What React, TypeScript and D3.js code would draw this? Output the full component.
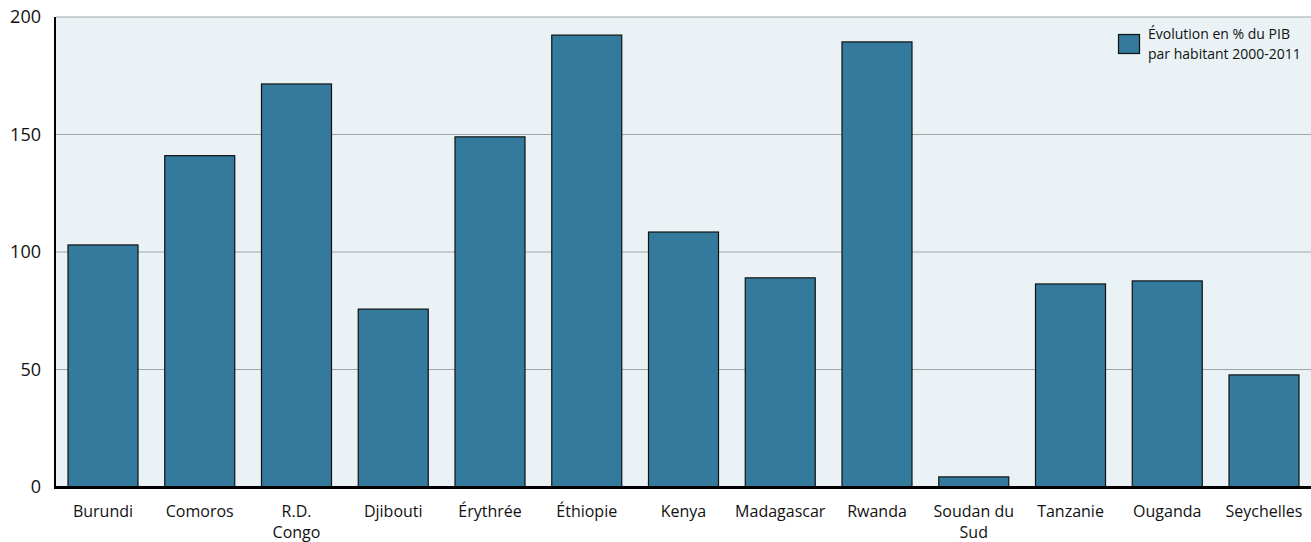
import React, { useEffect, useRef } from "react";
import * as d3 from "d3";

const countries = [
  "Burundi",
  "Comoros",
  "R.D. Congo",
  "Djibouti",
  "Érythrée",
  "Éthiopie",
  "Kenya",
  "Madagascar",
  "Rwanda",
  "Soudan du Sud",
  "Tanzanie",
  "Ouganda",
  "Seychelles",
];
const gdpGrowth = [103, 141, 171.5, 75.7, 149, 192.3, 108.5, 89, 189.4, 4.3, 86.4, 87.7, 47.7];
const yTicks = [0, 50, 100, 150, 200];
const labelLines: Record<string, string[]> = {
  "R.D. Congo": ["R.D.", "Congo"],
  "Soudan du Sud": ["Soudan du", "Sud"],
};
const legendLines = ["Évolution en % du PIB", "par habitant 2000-2011"];

const App = () => {
  const svgRef = useRef<SVGSVGElement>(null);

  useEffect(() => {
    const width = 1311;
    const height = 542;
    const marginLeft = 56;
    const marginRight = 0;
    const marginTop = 17;
    const marginBottom = 55;
    const font = "'Open Sans', 'Noto Sans', sans-serif";

    const x = d3
      .scaleBand()
      .domain(countries)
      .range([marginLeft, width - marginRight])
      .paddingInner(0.2765)
      .paddingOuter(0.124);
    const y = d3
      .scaleLinear()
      .domain([0, 200])
      .range([height - marginBottom, marginTop]);

    const svg = d3.select(svgRef.current);
    svg.selectAll("*").remove();
    svg.attr("width", width).attr("height", height).attr("viewBox", [0, 0, width, height]);

    // plot background
    svg
      .append("rect")
      .attr("x", marginLeft)
      .attr("y", marginTop)
      .attr("width", width - marginLeft - marginRight)
      .attr("height", y(0) - marginTop)
      .attr("fill", "#eaf2f6");

    // grid lines
    svg
      .append("g")
      .selectAll("line")
      .data(yTicks.filter((d) => d > 0))
      .join("line")
      .attr("x1", marginLeft)
      .attr("x2", width - marginRight)
      .attr("y1", (d) => y(d))
      .attr("y2", (d) => y(d))
      .attr("stroke", "#a0a4a6")
      .attr("stroke-width", 1);

    // y tick labels
    svg
      .append("g")
      .selectAll("text")
      .data(yTicks)
      .join("text")
      .attr("x", 41)
      .attr("y", (d) => y(d))
      .attr("dy", "0.35em")
      .attr("text-anchor", "end")
      .style("font-family", font)
      .style("font-size", "18px")
      .attr("fill", "#111")
      .text((d) => d);

    // bars
    svg
      .append("g")
      .selectAll("rect")
      .data(countries)
      .join("rect")
      .attr("x", (d) => x(d)!)
      .attr("y", (d, i) => y(gdpGrowth[i]))
      .attr("width", x.bandwidth())
      .attr("height", (d, i) => y(0) - y(gdpGrowth[i]))
      .attr("fill", "#337a9d")
      .attr("stroke", "#111")
      .attr("stroke-width", 1.2);

    // axes lines
    svg
      .append("line")
      .attr("x1", marginLeft - 1)
      .attr("x2", marginLeft - 1)
      .attr("y1", marginTop)
      .attr("y2", y(0) + 1)
      .attr("stroke", "#000")
      .attr("stroke-width", 2);
    svg
      .append("line")
      .attr("x1", marginLeft - 2)
      .attr("x2", width)
      .attr("y1", y(0) + 0.5)
      .attr("y2", y(0) + 0.5)
      .attr("stroke", "#000")
      .attr("stroke-width", 3);

    // category labels, one text per line
    const labelData = countries.flatMap((c) =>
      (labelLines[c] || [c]).map((t, i) => ({ c, t, i })),
    );
    svg
      .append("g")
      .selectAll("text")
      .data(labelData)
      .join("text")
      .attr("x", (d) => x(d.c)! + x.bandwidth() / 2)
      .attr("y", (d) => 517 + d.i * 21)
      .attr("text-anchor", "middle")
      .style("font-family", font)
      .style("font-size", "16px")
      .attr("fill", "#111")
      .text((d) => d.t);

    // legend
    const legend = svg.append("g");
    legend
      .append("rect")
      .attr("x", 1118.5)
      .attr("y", 34.5)
      .attr("width", 21)
      .attr("height", 19)
      .attr("fill", "#337a9d")
      .attr("stroke", "#111")
      .attr("stroke-width", 1.2);
    legend
      .selectAll("text")
      .data(legendLines)
      .join("text")
      .attr("x", 1148)
      .attr("y", (_, i) => 39 + i * 20)
      .style("font-family", font)
      .style("font-size", "14px")
      .attr("fill", "#111")
      .text((d) => d);
  }, []);

  return (
    <div style={{ position: "absolute", left: 0, top: 0 }}>
      <svg ref={svgRef} style={{ display: "block" }} />
    </div>
  );
};

export default App;
